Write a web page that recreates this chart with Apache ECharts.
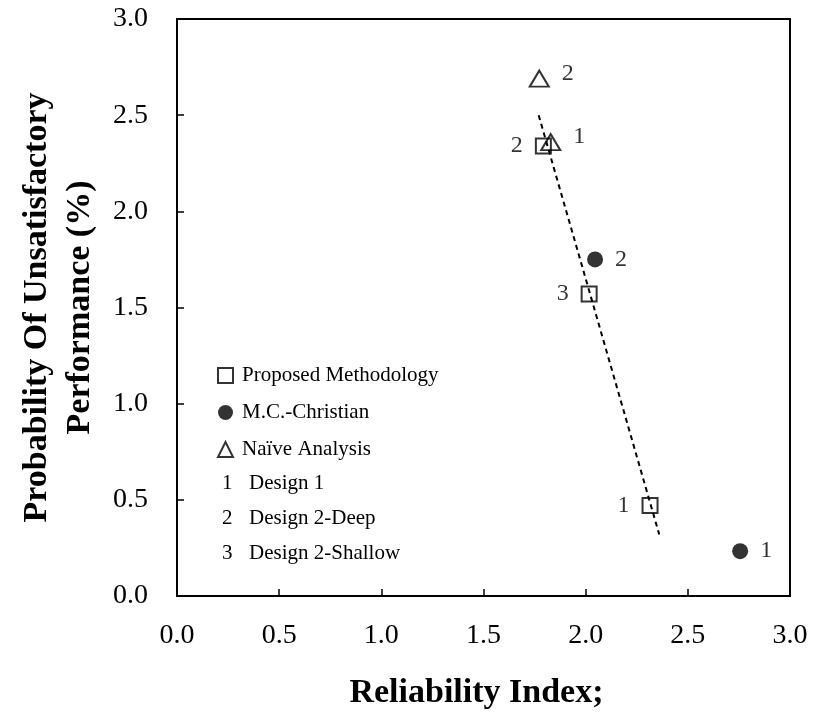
<!DOCTYPE html>
<html>
<head>
<meta charset="utf-8">
<title>Reliability Index chart</title>
<script src="https://cdn.jsdelivr.net/npm/echarts@6/dist/echarts.min.js"></script>
<style>
    html,body{margin:0;padding:0;background:#fff;}
    #chart{width:813px;height:715px;}
</style>
</head>
<body>
<div id="chart"></div>
<script>
// data
const propX = [2.315, 1.793, 2.017];
const propY = [0.47, 2.34, 1.57];
const propTag = ['1', '2', '3'];
const mcX = [2.756, 2.046];
const mcY = [0.233, 1.75];
const mcTag = ['1', '2'];
const naiveX = [1.829, 1.773];
const naiveY = [2.36, 2.69];
const naiveTag = ['1', '2'];
const fitX = [1.77, 2.36];
const fitY = [2.50, 0.32];
const noteKey = ['1', '2', '3'];
const noteText = ['Design 1', 'Design 2-Deep', 'Design 2-Shallow'];

const FONT = "'Liberation Serif', 'Times New Roman', serif";

function pts(xs, ys){
    return xs.map((x, i) => [x, ys[i]]);
}

let chart = echarts.init(document.getElementById('chart'));

// legend continuation: numbered design keys
let notes = [];
noteKey.forEach((k, i) => {
    let y = 483 + i * 35;
    notes.push({type: 'text', left: 222, top: y - 10,
        style: {text: k, font: '21px ' + FONT, fill: '#000'}});
    notes.push({type: 'text', left: 249, top: y - 10,
        style: {text: noteText[i], font: '21px ' + FONT, fill: '#000'}});
});

let hollow = {color: 'rgba(0,0,0,0)', borderColor: '#000', borderWidth: 2};
let tagStyle = {show: true, color: '#000', fontFamily: FONT, fontSize: 24, distance: 12};

let option = {
    backgroundColor: '#fff',
    animation: false,
    textStyle: {fontFamily: FONT, color: '#000'},
    grid: {left: 177, right: 23, top: 19, bottom: 116, show: true,
        borderColor: '#000', borderWidth: 2},
    legend: {
        orient: 'vertical', left: 217, top: 365, padding: 0,
        itemWidth: 15, itemHeight: 15, itemGap: 16,
        textStyle: {fontFamily: FONT, fontSize: 21, color: '#000', lineHeight: 20, padding: [0, 0, 0, 4]},
        data: ['Proposed Methodology', 'M.C.-Christian', 'Naïve Analysis']
    },
    xAxis: {
        type: 'value', min: 0, max: 3, interval: 0.5,
        name: 'Reliability Index;', nameLocation: 'middle', nameGap: 80,
        nameTextStyle: {fontFamily: FONT, fontSize: 34, fontWeight: 'bold', color: '#000', padding: [0, 14, 0, 0]},
        axisLine: {lineStyle: {color: '#000', width: 2}},
        axisTick: {inside: true, length: 7, lineStyle: {color: '#000', width: 1.5}},
        axisLabel: {fontSize: 28, color: '#000', margin: 26, formatter: v => v.toFixed(1)},
        splitLine: {show: false}
    },
    yAxis: {
        type: 'value', min: 0, max: 3, interval: 0.5,
        name: 'Probability Of Unsatisfactory\nPerformance (%)',
        nameLocation: 'middle', nameGap: 75, nameRotate: 90,
        nameTextStyle: {fontFamily: FONT, fontSize: 34, fontWeight: 'bold', color: '#000', lineHeight: 43},
        axisLine: {lineStyle: {color: '#000', width: 2}},
        axisTick: {inside: true, length: 7, lineStyle: {color: '#000', width: 1.5}},
        axisLabel: {fontSize: 28, color: '#000', margin: 29, formatter: v => v.toFixed(1)},
        splitLine: {show: false}
    },
    graphic: notes,
    series: [
        {
            name: 'fit', type: 'line', data: pts(fitX, fitY),
            symbol: 'none', silent: true, z: 1,
            lineStyle: {color: '#000', width: 2, type: [5, 4]}
        },
        {
            name: 'Proposed Methodology', type: 'scatter', data: pts(propX, propY),
            symbol: 'rect', symbolSize: 15, itemStyle: hollow, z: 3,
            label: Object.assign({}, tagStyle, {position: 'left', formatter: p => propTag[p.dataIndex]})
        },
        {
            name: 'M.C.-Christian', type: 'scatter', data: pts(mcX, mcY),
            symbol: 'circle', symbolSize: 16, itemStyle: {color: '#000'}, z: 3,
            label: Object.assign({}, tagStyle, {position: 'right', formatter: p => mcTag[p.dataIndex]})
        },
        {
            name: 'Naïve Analysis', type: 'scatter', data: pts(naiveX, naiveY),
            symbol: 'triangle', symbolSize: [19, 16], itemStyle: hollow, z: 3,
            label: Object.assign({}, tagStyle, {position: 'right', offset: [0, -5], formatter: p => naiveTag[p.dataIndex]})
        }
    ]
};
chart.setOption(option);
</script>
</body>
</html>
